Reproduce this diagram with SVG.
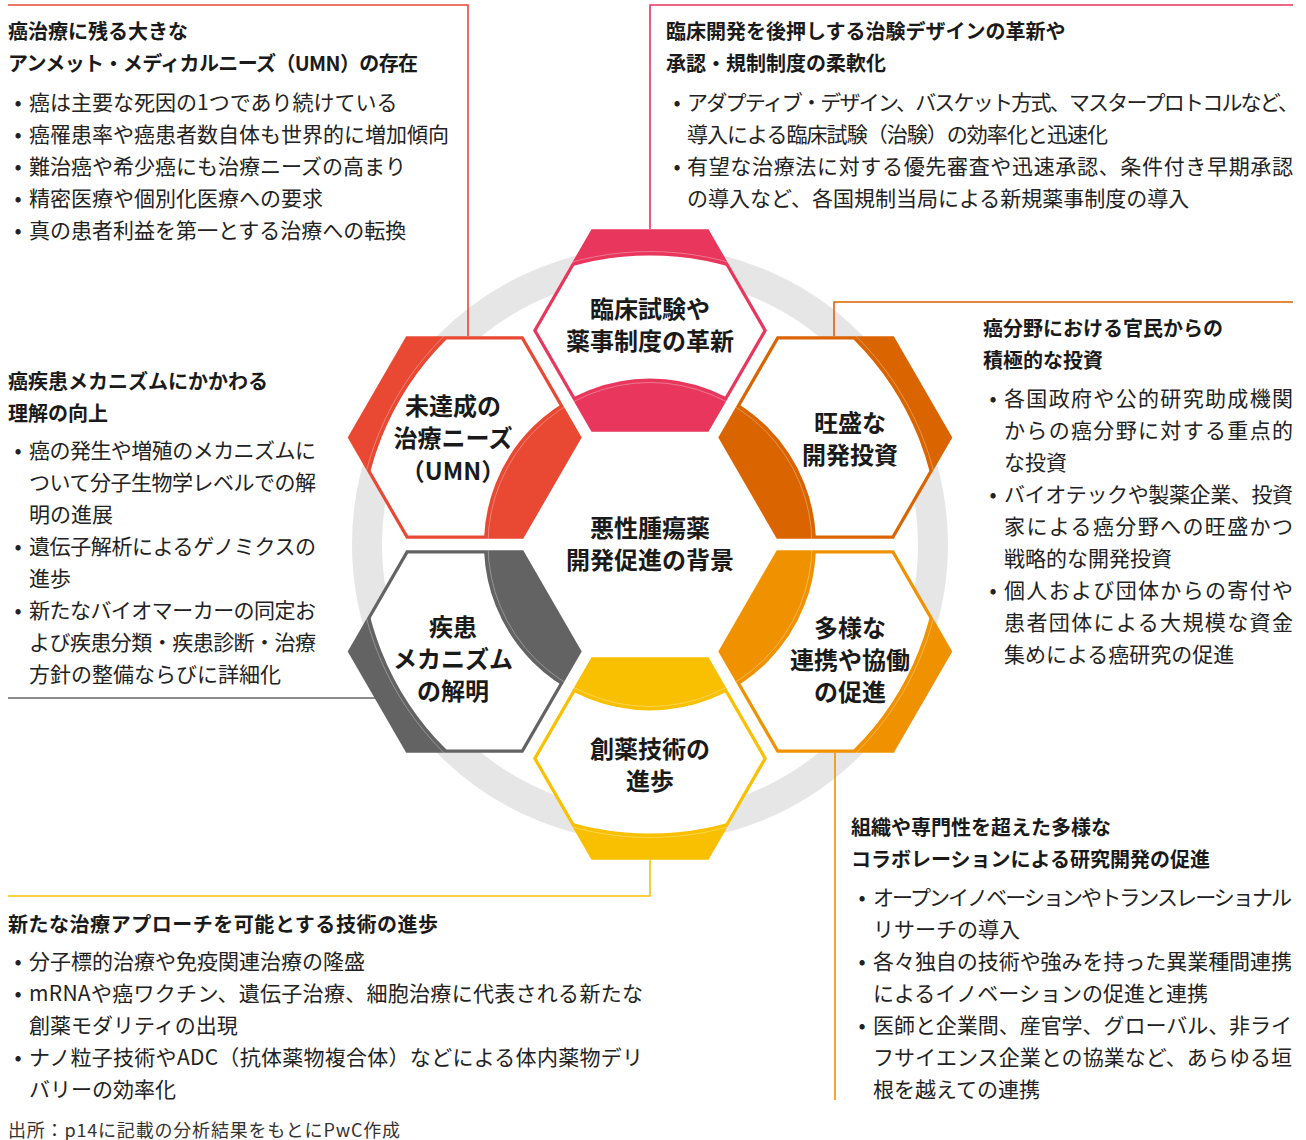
<svg xmlns="http://www.w3.org/2000/svg" width="1306" height="1140" viewBox="0 0 1306 1140">
<style>
text{font-family:"Noto Sans CJK JP","Noto Sans",sans-serif;}
.h{font-size:20px;font-weight:700;fill:#1a1a1a}
.b{font-size:21px;fill:#222}
.d{font-size:21px;fill:#222;text-anchor:middle}
.hx{font-size:24px;font-weight:700;fill:#1a1a1a;text-anchor:middle}
.conn path{fill:none;stroke-width:1.6}
.band{fill:none;stroke:#fff;stroke-width:123}
.gl{fill:none;stroke:#fff;stroke-opacity:.4;stroke-width:.8}
</style>
<defs>
<polygon id="hexO" points="-117,0 -58.5,-101.3 58.5,-101.3 117,0 58.5,101.3 -58.5,101.3"/>
<clipPath id="hexI"><polygon points="-113.3,0 -56.65,-98.1 56.65,-98.1 113.3,0 56.65,98.1 -56.65,98.1"/></clipPath>
<clipPath id="hexC"><polygon points="-117,0 -58.5,-101.3 58.5,-101.3 117,0 58.5,101.3 -58.5,101.3"/></clipPath>
</defs>
<rect width="1306" height="1140" fill="#fff"/>
<circle id="ring" cx="650" cy="544.5" r="283" fill="none" stroke="#e6e6e6" stroke-width="30"/>

<g id="connectors" class="conn">
<path d="M8,5 H468 V336" stroke="#E94833"/>
<path d="M650,229 V5 H1293" stroke="#E8365D"/>
<path d="M834,336 V302 H1293" stroke="#DA6400"/>
<path d="M835,753 V1100" stroke="#F09200"/>
<path d="M650,860 V896 H8" stroke="#F8C000"/>
<path d="M8,698 H375" stroke="#666"/>
</g>

<g id="hex-top">
<g transform="translate(650,330.5)">
<use href="#hexO" fill="#E8365D"/>
<circle cx="0" cy="214" r="227.5" class="band" clip-path="url(#hexI)"/>
<g clip-path="url(#hexC)"><circle cx="0" cy="214" r="293" class="gl"/><circle cx="0" cy="214" r="162" class="gl"/></g>
</g>
<text class="hx" x="650" y="318">臨床試験や</text>
<text class="hx" x="650" y="350">薬事制度の革新</text>
</g>

<g id="hex-investment">
<g transform="translate(835.3,437.5)">
<use href="#hexO" fill="#DA6400"/>
<circle cx="-185.3" cy="107" r="227.5" class="band" clip-path="url(#hexI)"/>
<g clip-path="url(#hexC)"><circle cx="-185.3" cy="107" r="293" class="gl"/><circle cx="-185.3" cy="107" r="162" class="gl"/></g>
</g>
<text class="hx" x="850" y="432">旺盛な</text>
<text class="hx" x="850" y="464">開発投資</text>
</g>

<g id="hex-collaboration">
<g transform="translate(835.3,651.5)">
<use href="#hexO" fill="#F09200"/>
<circle cx="-185.3" cy="-107" r="227.5" class="band" clip-path="url(#hexI)"/>
<g clip-path="url(#hexC)"><circle cx="-185.3" cy="-107" r="293" class="gl"/><circle cx="-185.3" cy="-107" r="162" class="gl"/></g>
</g>
<text class="hx" x="850" y="637">多様な</text>
<text class="hx" x="850" y="669">連携や協働</text>
<text class="hx" x="850" y="701">の促進</text>
</g>

<g id="hex-technology">
<g transform="translate(650,758.5)">
<use href="#hexO" fill="#F8C000"/>
<circle cx="0" cy="-214" r="227.5" class="band" clip-path="url(#hexI)"/>
<g clip-path="url(#hexC)"><circle cx="0" cy="-214" r="293" class="gl"/><circle cx="0" cy="-214" r="162" class="gl"/></g>
</g>
<text class="hx" x="650" y="758">創薬技術の</text>
<text class="hx" x="650" y="790">進歩</text>
</g>

<g id="hex-mechanism">
<g transform="translate(464.7,651.5)">
<use href="#hexO" fill="#636363"/>
<circle cx="185.3" cy="-107" r="227.5" class="band" clip-path="url(#hexI)"/>
<g clip-path="url(#hexC)"><circle cx="185.3" cy="-107" r="293" class="gl"/><circle cx="185.3" cy="-107" r="162" class="gl"/></g>
</g>
<text class="hx" x="453" y="636">疾患</text>
<text class="hx" x="453" y="668">メカニズム</text>
<text class="hx" x="453" y="700">の解明</text>
</g>

<g id="hex-umn">
<g transform="translate(464.7,437.5)">
<use href="#hexO" fill="#E94833"/>
<circle cx="185.3" cy="107" r="227.5" class="band" clip-path="url(#hexI)"/>
<g clip-path="url(#hexC)"><circle cx="185.3" cy="107" r="293" class="gl"/><circle cx="185.3" cy="107" r="162" class="gl"/></g>
</g>
<text class="hx" x="453" y="415">未達成の</text>
<text class="hx" x="453" y="447">治療ニーズ</text>
<text class="hx" x="453" y="480" font-size="22">（UMN）</text>
</g>

<g id="center">
<text class="hx" x="650" y="537">悪性腫瘍薬</text>
<text class="hx" x="650" y="569">開発促進の背景</text>
</g>

<g id="text-umn">
<text class="h" x="8" y="39">癌治療に残る大きな</text>
<text class="h" x="8" y="71" textLength="410" lengthAdjust="spacing">アンメット・メディカルニーズ（UMN）の存在</text>
<text class="d" x="18" y="110">•</text><text class="b" x="29" y="110">癌は主要な死因の1つであり続けている</text>
<text class="d" x="18" y="142">•</text><text class="b" x="29" y="142">癌罹患率や癌患者数自体も世界的に増加傾向</text>
<text class="d" x="18" y="174">•</text><text class="b" x="29" y="174">難治癌や希少癌にも治療ニーズの高まり</text>
<text class="d" x="18" y="206">•</text><text class="b" x="29" y="206">精密医療や個別化医療への要求</text>
<text class="d" x="18" y="238">•</text><text class="b" x="29" y="238">真の患者利益を第一とする治療への転換</text>
</g>

<g id="text-regulation">
<text class="h" x="666" y="39">臨床開発を後押しする治験デザインの革新や</text>
<text class="h" x="666" y="71">承認・規制制度の柔軟化</text>
<text class="d" x="677" y="110">•</text><text class="b" x="687" y="110" textLength="612" lengthAdjust="spacing">アダプティブ・デザイン、バスケット方式、マスタープロトコルなど、</text>
<text class="b" x="687" y="142" textLength="421" lengthAdjust="spacing">導入による臨床試験（治験）の効率化と迅速化</text>
<text class="d" x="677" y="174">•</text><text class="b" x="687" y="174" textLength="606" lengthAdjust="spacing">有望な治療法に対する優先審査や迅速承認、条件付き早期承認</text>
<text class="b" x="687" y="206">の導入など、各国規制当局による新規薬事制度の導入</text>
</g>

<g id="text-investment">
<text class="h" x="983" y="336">癌分野における官民からの</text>
<text class="h" x="983" y="368">積極的な投資</text>
<text class="d" x="993" y="406">•</text><text class="b" x="1004" y="406" textLength="289" lengthAdjust="spacing">各国政府や公的研究助成機関</text>
<text class="b" x="1004" y="438" textLength="289" lengthAdjust="spacing">からの癌分野に対する重点的</text>
<text class="b" x="1004" y="470">な投資</text>
<text class="d" x="993" y="502">•</text><text class="b" x="1004" y="502" textLength="289" lengthAdjust="spacing">バイオテックや製薬企業、投資</text>
<text class="b" x="1004" y="534" textLength="289" lengthAdjust="spacing">家による癌分野への旺盛かつ</text>
<text class="b" x="1004" y="566">戦略的な開発投資</text>
<text class="d" x="993" y="598">•</text><text class="b" x="1004" y="598" textLength="289" lengthAdjust="spacing">個人および団体からの寄付や</text>
<text class="b" x="1004" y="630" textLength="289" lengthAdjust="spacing">患者団体による大規模な資金</text>
<text class="b" x="1004" y="662">集めによる癌研究の促進</text>
</g>

<g id="text-mechanism">
<text class="h" x="8" y="389">癌疾患メカニズムにかかわる</text>
<text class="h" x="8" y="421">理解の向上</text>
<text class="d" x="18" y="458">•</text><text class="b" x="29" y="458" textLength="287" lengthAdjust="spacing">癌の発生や増殖のメカニズムに</text>
<text class="b" x="29" y="490" textLength="287" lengthAdjust="spacing">ついて分子生物学レベルでの解</text>
<text class="b" x="29" y="522">明の進展</text>
<text class="d" x="18" y="554">•</text><text class="b" x="29" y="554" textLength="287" lengthAdjust="spacing">遺伝子解析によるゲノミクスの</text>
<text class="b" x="29" y="586">進歩</text>
<text class="d" x="18" y="618">•</text><text class="b" x="29" y="618" textLength="287" lengthAdjust="spacing">新たなバイオマーカーの同定お</text>
<text class="b" x="29" y="650" textLength="287" lengthAdjust="spacing">よび疾患分類・疾患診断・治療</text>
<text class="b" x="29" y="682">方針の整備ならびに詳細化</text>
</g>

<g id="text-technology">
<text class="h" x="8" y="932" textLength="430" lengthAdjust="spacing">新たな治療アプローチを可能とする技術の進歩</text>
<text class="d" x="18" y="969">•</text><text class="b" x="29" y="969">分子標的治療や免疫関連治療の隆盛</text>
<text class="d" x="18" y="1001">•</text><text class="b" x="29" y="1001" textLength="614" lengthAdjust="spacing">mRNAや癌ワクチン、遺伝子治療、細胞治療に代表される新たな</text>
<text class="b" x="29" y="1033">創薬モダリティの出現</text>
<text class="d" x="18" y="1065">•</text><text class="b" x="29" y="1065" textLength="614" lengthAdjust="spacing">ナノ粒子技術やADC（抗体薬物複合体）などによる体内薬物デリ</text>
<text class="b" x="29" y="1097">バリーの効率化</text>
</g>

<g id="text-collaboration">
<text class="h" x="851" y="835">組織や専門性を超えた多様な</text>
<text class="h" x="851" y="867">コラボレーションによる研究開発の促進</text>
<text class="d" x="862" y="905">•</text><text class="b" x="873" y="905" textLength="419" lengthAdjust="spacing">オープンイノベーションやトランスレーショナル</text>
<text class="b" x="873" y="937">リサーチの導入</text>
<text class="d" x="862" y="969">•</text><text class="b" x="873" y="969" textLength="419" lengthAdjust="spacing">各々独自の技術や強みを持った異業種間連携</text>
<text class="b" x="873" y="1001">によるイノベーションの促進と連携</text>
<text class="d" x="862" y="1033">•</text><text class="b" x="873" y="1033" textLength="419" lengthAdjust="spacing">医師と企業間、産官学、グローバル、非ライ</text>
<text class="b" x="873" y="1065" textLength="419" lengthAdjust="spacing">フサイエンス企業との協業など、あらゆる垣</text>
<text class="b" x="873" y="1097">根を越えての連携</text>
</g>

<text id="source" x="8" y="1137" font-size="18" fill="#333" textLength="392" lengthAdjust="spacing">出所：p14に記載の分析結果をもとにPwC作成</text>
</svg>
